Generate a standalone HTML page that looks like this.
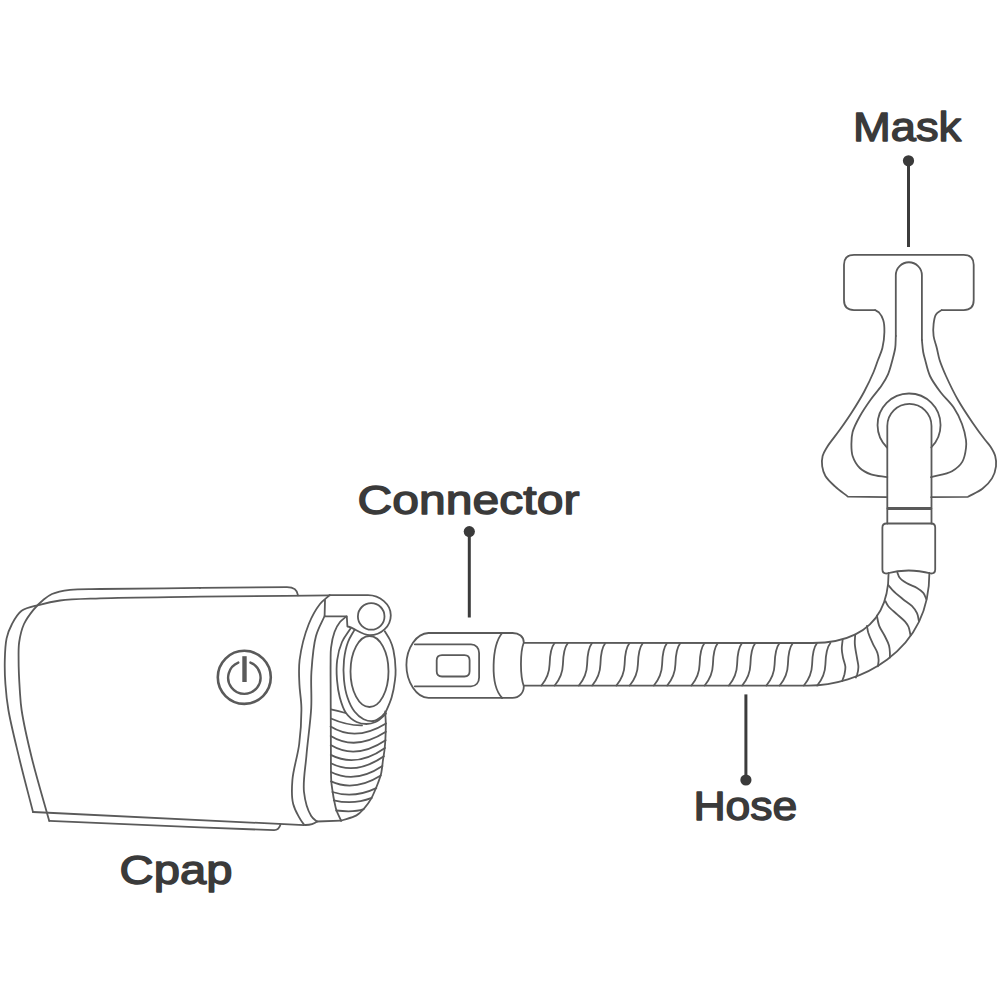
<!DOCTYPE html>
<html><head><meta charset="utf-8"><title>CPAP diagram</title>
<style>
html,body{margin:0;padding:0;background:#fff;}
body{width:1000px;height:1000px;overflow:hidden;}
svg{display:block;}
text{font-family:"Liberation Sans",sans-serif;font-weight:normal;fill:#3a3a3a;stroke:#3a3a3a;stroke-width:1.4;stroke-linejoin:round;}
</style></head><body>
<svg width="1000" height="1000" viewBox="0 0 1000 1000">
<rect width="1000" height="1000" fill="#fff"/>
<g fill="none" stroke="#5a5a5a" stroke-width="1.8" stroke-linecap="round" stroke-linejoin="round">
<path d="M298 595.3 Q297 587.1 287 587.1 L200 587.9"/>
<path d="M200 587.9 C166.7 588.3 123.6 588.6 100 589 C87.1 589.2 78.7 588.7 70 589.8 C63.2 590.7 56.8 591.9 52 594 C48.4 595.6 46.1 597.6 43.2 600 C39.9 602.7 36.6 605.9 33.6 609.6 C30.2 613.8 26.4 618.7 24 624 C21.5 629.5 20.1 635.9 19.2 642 C18.3 648 18.6 653.2 18.6 660 C18.6 668.7 19.2 681 19.8 690 C20.3 697.3 20.4 701.9 21.6 710 C23.5 722.6 27.6 741 31.8 758 C36.6 777.6 43.4 799.9 49.2 820.8"/>
<path d="M49.2 820.8 L200 827.4 L274 830.2 C278 830.3 279.5 828 280.5 824.6"/>
<path d="M329.6 595.4 C286.4 595.8 240.4 596.2 200 596.7 C164.5 597.2 125.8 597.4 100 598.3 C83.7 598.9 71.1 599 60 600.5 C52 601.6 46.1 603 39.6 604.8 C33.4 606.5 26.3 607.4 21.6 610.8 C17.3 614 14.5 619.3 12 624 C9.6 628.5 7.8 633 6.6 638.4 C5.2 644.8 5 652.6 4.8 660 C4.6 667.8 4.8 675.9 5.4 684 C6 692.5 6.7 700.1 8.4 710 C10.7 723.6 15.3 741.6 19.2 758 C23.4 775.5 28.4 794 33 812"/>
<path d="M33 812 L304 825.1"/>
<path d="M329.6 595.2 C326.4 598.1 323 600.2 320 604 C316 609.1 312 616.1 308.8 624 C304.8 634 301 649.1 299.6 660 C298.5 668.7 299.1 676 299.4 684 C299.7 692 301.3 699.2 301.4 708 C301.5 718.8 300.7 732 299.2 744 C297.7 756 293.2 769.2 292.4 780 C291.7 788.8 291.2 796.5 293.2 804 C295.1 811.3 301.8 822.4 304 824.4 C304.6 824.9 305 824.8 305.5 825"/>
<path d="M325 600 L324.6 616"/>
<path d="M324.6 616 C321.7 622.7 318.1 628.2 316 636 C313.2 646.1 312.2 660 311.4 672 C310.6 684 311.9 695.2 311.2 708 C310.4 722.9 307.6 741.1 306.4 756 C305.3 768.9 302.8 781.3 304 792 C305 800.9 308.1 811 311.2 816 C312.9 818.8 315.1 819.7 317 821.5"/>
<path d="M317 821.5 C314 824 310 825 305.5 825"/>
<path d="M317 821.5 L341.1 820.6"/>
<path d="M329.6 595.2 L368 595.2 C380 595.2 390.8 604.5 390.8 615.2 C390.8 626.5 381 635.2 369.8 635.2 C362 635.2 353 627 347.4 626.5 L346.8 616.4 L325.6 616.4"/>
<path d="M371.2 616.4 m-13.3 0 a13.3 13.3 0 1 0 26.6 0 a13.3 13.3 0 1 0 -26.6 0"/>
<path d="M346.4 616.4 C344.3 618.3 341.9 619.7 340 622 C337.8 624.7 335.9 628.2 334.5 632 C332.8 636.6 331.6 642.6 331 648 C330.4 653.3 330.7 657.6 330.6 664 C330.5 673.6 330.7 687 330.7 700 C330.8 715.3 330.8 735.3 330.9 750 C331 761.7 330.7 773.7 331.3 781.4 C331.6 785.9 332.2 788.7 332.7 792 C333.1 794.9 333.5 797.4 334.1 800.3 C334.8 803.5 335.4 807.2 336.5 810.5 C337.7 813.9 339.6 817.2 341.1 820.6"/>
<path d="M350.4 628.8 C347.6 633.2 344.2 637.1 342 642 C339.6 647.4 338 653.8 337.2 660 C336.3 666.4 336.5 673.6 337 680 C337.5 686 338.3 691.9 339.8 697.5 C341.3 702.9 343 708.8 346 713 C348.7 716.8 352.9 720.2 356.6 722 C359.7 723.5 363.2 724 366.4 724 C369.5 724 372.6 723.3 375.5 722 C378.7 720.5 382.9 716.5 384.6 715 C385.3 714.4 385.5 714 386 713.5"/>
<path d="M354.6 629.6 C352.4 633.7 349.7 637.4 348 642 C346 647.3 344.7 653.8 344 660 C343.3 666.5 343.4 673.6 344 680 C344.6 686.1 345.6 692.1 347.5 697.5 C349.2 702.6 351.6 707.8 354.5 711.5 C357.1 714.8 360.3 717.6 363.6 719.2 C366.6 720.6 370.4 721.5 373.4 721 C376.2 720.6 378.9 718.6 381 717 C382.7 715.7 383.8 714 385.2 712.5"/>
<path d="M384.8 631.2 C386.5 634.1 388.6 636.9 390 640 C391.5 643.2 392.5 646 393.4 650 C394.6 655.5 395.5 664.5 395.6 670 C395.7 673.9 395.5 676.2 395 680 C394.4 685 393.2 692.1 391.6 697.5 C390.1 702.5 387 709.2 386 711.5 C385.7 712.3 385.5 712.5 385.3 713"/>
<path d="M369.5 671.5 m-19 0 a19 35.5 0 1 0 38 0 a19 35.5 0 1 0 -38 0"/>
<path d="M385.2 711.5 C385.4 716 385.8 720.5 385.8 725 C385.8 729.6 385.6 734.6 385.4 739 C385.2 742.9 384.9 746.4 384.5 750 C384.1 753.4 383.5 756.4 383 760 C382.4 764.3 382 770 381 774.1 C380.2 777.3 379.2 779.8 378.2 782.5 C377.3 785 376.5 787 375.4 789.5 C374.2 792.3 372.9 795.6 371.2 798.6 C369.3 801.9 366.8 805.5 364.2 808.4 C361.8 811.1 359.8 813.5 356.5 815.4 C352.4 817.8 346.2 818.9 341.1 820.6"/>
<path d="M330.6 726.5 Q355.7 742 386 723.4"/>
<path d="M330.7 736 Q355.7 751.3 385.9 731.8"/>
<path d="M330.7 745.1 Q355.8 760.1 385.6 740.2"/>
<path d="M330.8 754.9 Q356.1 768.2 385 747.9"/>
<path d="M330.9 763.3 Q355.6 775.8 383.9 756.3"/>
<path d="M330.9 772 Q355.3 784.2 382.4 766"/>
<path d="M331 781.4 Q354.1 792.1 380.8 775.5"/>
<path d="M332.4 792 Q353.7 798.8 376.3 788.1"/>
<path d="M333.8 800.3 Q353.2 805.1 371.8 797.9"/>
<path d="M336.2 810.5 Q354 812.6 363.7 809.1"/>
<path d="M330.9 709.4 Q339 711 345.4 713"/>
<path d="M330.9 718.5 C340 722.5 350 725.6 362 725.4"/>
<path d="M244.3 677.3 m-26.5 0 a26.5 26.5 0 1 0 53 0 a26.5 26.5 0 1 0 -53 0" stroke-width="2.6"/>
<path d="M238.3 662.6 A16.2 16.2 0 1 0 250.4 662.6" stroke-width="2.4"/>
<path d="M244.5 656.2 L244.5 682" stroke-width="4.4" stroke-linecap="butt"/>
<path d="M502 633 L428.5 633 C416.5 633.3 406.4 648 406.4 665 C406.4 682 416.5 697.6 428.5 697.9 L502 697.9"/>
<path d="M502 633 L512.5 633 C519 633 523.8 636.5 523.8 642.5 C520 652 520 676 523.8 686.2 C523.8 693 519 697.9 512.5 697.9 L502 697.9"/>
<path d="M502.2 633 C492 645 489.5 685 502.2 697.9"/>
<path d="M414.8 644.3 L471 644.3 C476 644.3 479.1 648 479.1 653 L479.1 677.5 C479.1 682.5 476 686.3 471 686.3 L414.8 686.3"/>
<path d="M442 655.1 L464.4 655.1 Q469.6 655.1 469.6 660.3 L469.6 671.3 Q469.6 676.5 464.4 676.5 L442 676.5 Q436.7 676.5 436.7 671.3 L436.7 660.3 Q436.7 655.1 442 655.1Z"/>
<path d="M524 642.9 L811 643 C822.3 643 888.6 645.2 888.6 573"/>
<path d="M524 685.6 L808 685.6 C857.6 685.6 929.4 653.4 929.4 573"/>
<path d="M541.4 685.5 C546.4 679.5 549.4 671.5 549.6 664.5 C549.8 655.5 550.9 647.5 554.6 643"/>
<path d="M554.7 685.5 C559.7 679.5 562.7 671.5 562.9 664.5 C563.1 655.5 564.2 647.5 567.9 643"/>
<path d="M578.9 685.5 C583.9 679.5 586.9 671.5 587.1 664.5 C587.3 655.5 588.4 647.5 592.1 643"/>
<path d="M592.2 685.5 C597.2 679.5 600.2 671.5 600.4 664.5 C600.6 655.5 601.7 647.5 605.4 643"/>
<path d="M616.4 685.5 C621.4 679.5 624.4 671.5 624.6 664.5 C624.8 655.5 625.9 647.5 629.6 643"/>
<path d="M629.7 685.5 C634.7 679.5 637.7 671.5 637.9 664.5 C638.1 655.5 639.2 647.5 642.9 643"/>
<path d="M653.9 685.5 C658.9 679.5 661.9 671.5 662.1 664.5 C662.3 655.5 663.4 647.5 667.1 643"/>
<path d="M667.2 685.5 C672.2 679.5 675.2 671.5 675.4 664.5 C675.6 655.5 676.7 647.5 680.4 643"/>
<path d="M691.4 685.5 C696.4 679.5 699.4 671.5 699.6 664.5 C699.8 655.5 700.9 647.5 704.6 643"/>
<path d="M704.7 685.5 C709.7 679.5 712.7 671.5 712.9 664.5 C713.1 655.5 714.2 647.5 717.9 643"/>
<path d="M728.9 685.5 C733.9 679.5 736.9 671.5 737.1 664.5 C737.3 655.5 738.4 647.5 742.1 643"/>
<path d="M742.2 685.5 C747.2 679.5 750.2 671.5 750.4 664.5 C750.6 655.5 751.7 647.5 755.4 643"/>
<path d="M766.4 685.5 C771.4 679.5 774.4 671.5 774.6 664.5 C774.8 655.5 775.9 647.5 779.6 643"/>
<path d="M779.7 685.5 C784.7 679.5 787.7 671.5 787.9 664.5 C788.1 655.5 789.2 647.5 792.9 643"/>
<path d="M803.9 685.5 C808.9 679.5 811.9 671.5 812.1 664.5 C812.3 655.5 813.4 647.5 817.1 643"/>
<path d="M817.2 685.5 C822.2 679.5 825.2 671.5 825.4 664.5 C825.6 655.5 826.7 647.5 830.4 643"/>
<path d="M842.6 640 C842.4 643 841.7 646 841.8 649 C841.8 652 842.5 655 843.1 658 C843.7 661 845.2 664.2 845.4 667 C845.5 669.5 845 671.9 844.5 674.2 C843.9 676.5 843 678.7 842.2 681"/>
<path d="M855.2 634.6 C855.1 637.6 854.6 640.3 854.8 643.6 C855 647.8 856.3 653.8 857 658 C857.5 661.4 858.4 664.1 858.4 667 C858.4 669.7 857.6 673.1 857 675 C856.6 676.1 856.2 676.7 855.8 677.5"/>
<path d="M867 626 C867.4 628.3 867.6 630.3 868.3 632.8 C869.3 636 871.2 640.2 872.8 643.6 C874.2 646.8 876.3 649.7 877.3 652.6 C878.1 655.1 878.6 657.5 878.6 659.8 C878.7 662 878.1 664.1 877.9 666.3"/>
<path d="M876.9 615.7 C877.6 619 877.9 622.4 879.1 625.6 C880.4 629 882.8 632.2 884.5 635.5 C886.1 638.8 888.1 642.3 889 645.4 C889.7 647.9 889.8 650.4 889.9 652.6 C890 654.4 889.9 655.9 889.9 657.6"/>
<path d="M885.5 601.3 C886.4 602.9 886.9 604.5 888.3 606.2 C890.3 608.8 894.5 611.9 897.4 614.6 C900.1 617 903.1 619.3 905.1 621.6 C906.6 623.4 907.7 624.9 908.6 627 C909.6 629.4 909.9 632.7 910.6 635.5"/>
<path d="M888.3 585.2 C889.7 586.8 890.7 588.3 892.5 590.1 C895.1 592.8 899.6 596.4 903 599.2 C906.1 601.7 909.7 603.7 912.1 606.2 C914.2 608.4 915.9 610.7 917 613.2 C918.1 615.6 918.3 618.3 918.9 620.9"/>
<path d="M897.4 572.6 C898.1 574.2 898.3 576 899.5 577.5 C901 579.5 903.8 581.4 906.5 583.1 C909.5 585 914 586.2 917 588 C919.5 589.5 921.7 591 923.3 592.9 C924.8 594.7 925.3 597.1 926.3 599.2"/>
<path d="M886.5 523.5 L931.2 523.5 Q935.2 523.5 935.2 527.5 L935.2 569.5 Q935.2 573.5 931.2 573.5 C925 572 918 570.5 908.6 570.5 C899 570.5 892 572 886.5 573.5 Q882.4 573.5 882.4 569.5 L882.4 527.5 Q882.4 523.5 886.5 523.5Z"/>
<path d="M887.3 523.5 L887.3 426 A22.1 22.1 0 0 1 931.5 426 L931.5 523.5"/>
<path d="M888 508.5 L930.8 508.5" stroke-width="2.8"/>
<path d="M886.6 497.2 L847.8 496.6 C843.5 493.2 838.8 490 835 486.4 C831.4 483.1 827.5 479.6 825.4 476 C823.6 472.9 822.7 469.7 822.2 466.4 C821.7 463 821.8 459.2 822.6 456 C823.4 452.9 825 450.5 827 447.2 C830 442.2 835.8 435.5 840 429.6 C844.1 423.8 848.1 418.1 852 412 C856.1 405.6 860.4 398.8 864 392 C867.5 385.4 871.1 377.9 873.6 372 C875.5 367.5 876.5 364 878 360 C879.5 356 881.3 352.4 882.4 348 C883.6 343.1 884.3 337 884.4 332 C884.5 327.7 884.3 323.4 883.2 320 C882.3 317.1 880.6 314.2 879 312.5 C877.8 311.3 876.3 310.9 875 310.1"/>
<path d="M875 310.1 L854 310.1 Q844 310.1 844 300.1 L844 264.8 Q844 254.8 854 254.8 L963.7 254.8 Q973.7 254.8 973.7 264.8 L973.7 300.1 Q973.7 310.1 963.7 310.1 L941.6 310.1"/>
<path d="M931.2 497.2 L968 496.8 C972.8 494.1 978.3 492 982.4 488.8 C986.2 485.8 989.7 482.3 992 478.4 C994.2 474.8 995.5 470.3 996 466.4 C996.4 462.9 996.1 459.3 995.2 456 C994.3 452.6 992.2 449.2 990.4 446.4 C988.8 444 987.3 442.7 985.2 440 C981.8 435.6 976.7 428.7 972.4 422.4 C967.6 415.4 962.4 407.7 958 400 C953.6 392.3 949.3 383.3 946 376 C943.4 370.2 941.2 365 939.6 360 C938.3 355.8 937.8 352 936.8 348 C935.8 344 934.1 340 933.6 336 C933.1 332 933.1 327.8 933.6 324 C934 320.6 934.4 316.8 936 314.4 C937.3 312.4 939.7 311.5 941.6 310.1"/>
<path d="M895.8 336 L895.8 275.3 A13.05 13.05 0 0 1 921.9 275.3 L921.9 340"/>
<path d="M895.8 336 C895.6 340 895.8 344 895.2 348 C894.6 352 893.5 355.8 892.4 360 C891.2 364.6 889.9 370 888 374.4 C886.2 378.5 884.2 381.7 881.6 385.6 C878.5 390.2 874 395 870.4 400 C866.8 405.1 863 410.6 860 416 C857.1 421.2 854 426.9 852.6 432 C851.5 436.2 851.4 440 851.4 444 C851.4 448 851.3 452.1 852.6 456 C854 460.2 856.6 464.9 859.8 468 C862.8 471 866.8 472.9 871 474.4 C875.8 476.1 881.9 476.3 887.3 477.2"/>
<path d="M921.9 340 C922.3 344 922.6 348.4 923.2 352 C923.7 355 924.3 356.9 925.2 360 C926.4 364.4 927.6 370.8 930 376 C932.6 381.5 936.5 386.8 940.4 392 C944.5 397.5 950.3 402.4 954 408 C957.4 413.1 960 418.6 962 424 C963.9 429.2 965.5 435.6 966 440 C966.4 443.1 966.4 445 966 448 C965.5 452 964.7 457.7 962.4 461.6 C960.1 465.5 956.4 468.7 952 471.2 C946.5 474.3 938 475.2 931 477.2"/>
<path d="M887 447.5 A31.5 31.5 0 1 1 931.3 447.3"/>

<line x1="908.5" y1="161" x2="908.5" y2="247" stroke-width="3" stroke="#3c3c3c" stroke-linecap="butt"/>
<circle cx="908.5" cy="160.8" r="5.6" fill="#3a3a3a" stroke="none"/>
<line x1="469.3" y1="532" x2="469.3" y2="617.5" stroke-width="3" stroke="#3c3c3c" stroke-linecap="butt"/>
<circle cx="469.3" cy="531.6" r="5.6" fill="#3a3a3a" stroke="none"/>
<line x1="745.9" y1="694.4" x2="745.9" y2="780" stroke-width="3" stroke="#3c3c3c" stroke-linecap="butt"/>
<circle cx="745.9" cy="780" r="5.6" fill="#3a3a3a" stroke="none"/>

</g>
<g>

<text x="853" y="141.4" font-size="40.5" textLength="108.2" lengthAdjust="spacingAndGlyphs">Mask</text>
<text x="357.6" y="513.9" font-size="40.5" textLength="221.8" lengthAdjust="spacingAndGlyphs">Connector</text>
<text x="693.4" y="820.3" font-size="40.5" textLength="104" lengthAdjust="spacingAndGlyphs">Hose</text>
<text x="119.6" y="883.5" font-size="40.5" textLength="112.8" lengthAdjust="spacingAndGlyphs">Cpap</text>

</g>
</svg>
</body></html>
